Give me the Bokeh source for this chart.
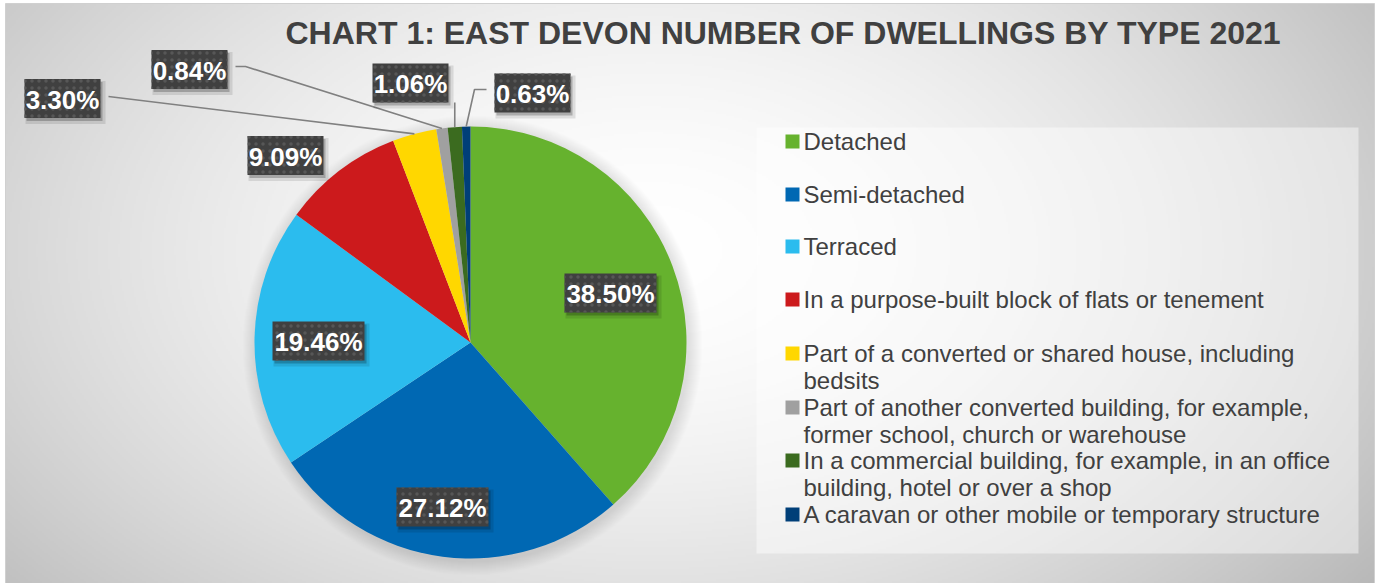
import numpy as np
from bokeh.plotting import figure
from bokeh.models import Range1d
from bokeh.core.properties import value
from bokeh.embed import file_html
from bokeh.resources import INLINE

# ---------------- data ----------------
title_text = "CHART 1: EAST DEVON NUMBER OF DWELLINGS BY TYPE 2021"
categories = [
    "Detached",
    "Semi-detached",
    "Terraced",
    "In a purpose-built block of flats or tenement",
    "Part of a converted or shared house, including bedsits",
    "Part of another converted building, for example, former school, church or warehouse",
    "In a commercial building, for example, in an office building, hotel or over a shop",
    "A caravan or other mobile or temporary structure",
]
legend_lines = [
    ["Detached"],
    ["Semi-detached"],
    ["Terraced"],
    ["In a purpose-built block of flats or tenement"],
    ["Part of a converted or shared house, including", "bedsits"],
    ["Part of another converted building, for example,", "former school, church or warehouse"],
    ["In a commercial building, for example, in an office", "building, hotel or over a shop"],
    ["A caravan or other mobile or temporary structure"],
]
shares = [38.50, 27.12, 19.46, 9.09, 3.30, 0.84, 1.06, 0.63]
colors = ["#66B22E", "#0068B3", "#2BBCEE", "#CC1A1C", "#FFD700", "#A0A0A0", "#3B6B1F", "#003F78"]

# ---------------- layout (image pixel coords, y downward) ----------------
W, H = 1379, 583
def fy(y):
    return H - y

CX, CY, R = 470, 342, 216
label_centers = [(610, 292.5), (442, 506.5), (318, 340.5), (285, 155),
                 (62, 98), (189, 69), (410, 82.5), (532, 92.5)]
legend_rows = [141, 194, 246, 299, 353, 407, 460, 514]
LINE_H = 27

p = figure(width=W, height=H, x_range=Range1d(0, W), y_range=Range1d(0, H),
           output_backend="svg", toolbar_location=None, min_border=0,
           x_axis_type=None, y_axis_type=None)
p.grid.visible = False
p.outline_line_color = None
p.background_fill_color = "white"
p.border_fill_color = "white"

# ---------------- background gradient ----------------
x0, x1, y0, y1 = 5, 1374, 3, 583
step = 2
gx = np.arange(x0, x1, step) + step / 2
gy = np.arange(y0, y1, step) + step / 2
GX, GY = np.meshgrid(gx, gy)
rr = np.sqrt(((GX - 650) / 800) ** 2 + ((GY - 250) / 500) ** 2)
v = np.clip(255 - 58 * rr ** 1.7, 180, 255).astype(np.uint8)
img = np.empty(v.shape, dtype=np.uint32)
view = img.view(dtype=np.uint8).reshape(v.shape + (4,))
view[..., 0] = v
view[..., 1] = v
view[..., 2] = v
view[..., 3] = 255
p.image_rgba(image=[np.flipud(img)], x=x0, y=fy(y1), dw=x1 - x0, dh=y1 - y0)
p.quad(left=x0, right=x1, bottom=fy(y1), top=fy(y0), fill_color=None, line_color="#D0D0D0", line_width=1)

# ---------------- title ----------------
p.text(x=[285], y=[fy(32)], text=[title_text], text_font=value("Liberation Sans"),
       text_font_style="bold", text_font_size="32px", text_color="#404040",
       text_align="left", text_baseline="middle")

# ---------------- pie shadow ----------------
ks = np.arange(1, 15)
p.circle(x=[CX + 2] * len(ks), y=[fy(CY + 3)] * len(ks), radius=list(R + ks),
         fill_color="black", fill_alpha=0.008, line_color=None)

# ---------------- pie ----------------
total = sum(shares)
cum = np.concatenate([[0], np.cumsum(shares)]) / total
starts = np.pi / 2 - 2 * np.pi * cum[:-1]
ends = np.pi / 2 - 2 * np.pi * cum[1:]
p.wedge(x=CX, y=fy(CY), radius=R, start_angle=starts, end_angle=ends,
        direction="clock", fill_color=colors, line_color=None)

# ---------------- leader lines for small slices ----------------
mids = 2 * np.pi * (cum[:-1] + cum[1:]) / 2  # clockwise from top
def edge_pt(i):
    a = mids[i]
    return CX + R * np.sin(a), CY - R * np.cos(a)

lead_xs, lead_ys = [], []
ex, ey = edge_pt(4)
bx, by = label_centers[4]
lead_xs.append([bx + 46, ex]); lead_ys.append([fy(by - 2), fy(ey)])
ex, ey = edge_pt(5)
bx, by = label_centers[5]
lead_xs.append([bx + 46, bx + 56, ex]); lead_ys.append([fy(by - 3), fy(by - 3), fy(ey)])
ex, ey = edge_pt(6)
bx, by = label_centers[6]
lead_xs.append([ex, ex]); lead_ys.append([fy(by + 19.5), fy(ey)])
ex, ey = edge_pt(7)
bx, by = label_centers[7]
lead_xs.append([bx - 46, bx - 58, ex]); lead_ys.append([fy(by - 3.5), fy(by - 3.5), fy(ey)])
p.multi_line(xs=lead_xs, ys=lead_ys, line_color="#808080", line_width=1.6)

# ---------------- data labels ----------------
label_text = [f"{s:.2f}%" for s in shares]
lx = [c[0] for c in label_centers]
ly = [fy(c[1]) for c in label_centers]
lw = [16 * len(t) - 4 for t in label_text]
lh = [39] * len(label_text)
p.rect(x=[x + 3 for x in lx], y=[y - 4 for y in ly], width=[w + 4 for w in lw], height=[h + 4 for h in lh],
       fill_color="black", fill_alpha=0.10, line_color=None)
p.rect(x=[x + 2 for x in lx], y=[y - 3 for y in ly], width=lw, height=lh,
       fill_color="black", fill_alpha=0.22, line_color=None)
p.rect(x=lx, y=ly, width=lw, height=lh, fill_color="#404040", line_color=None,
       hatch_pattern="dot", hatch_color="#575757", hatch_scale=7, hatch_weight=1.5)
p.text(x=lx, y=[y - 1 for y in ly], text=label_text, text_font=value("Liberation Sans"),
       text_font_style="bold", text_font_size="26px", text_color="white",
       text_align="center", text_baseline="middle")

# ---------------- legend ----------------
p.quad(left=756, right=1358, top=fy(127), bottom=fy(553), fill_color="white",
       fill_alpha=0.45, line_color=None)
p.rect(x=[792] * len(colors), y=[fy(r) for r in legend_rows], width=14, height=14,
       fill_color=colors, line_color=None)
tx, ty, tt = [], [], []
for row, lines in zip(legend_rows, legend_lines):
    for j, ln in enumerate(lines):
        tx.append(803); ty.append(fy(row + j * LINE_H)); tt.append(ln)
p.text(x=tx, y=ty, text=tt, text_font=value("Liberation Sans"), text_font_size="24px",
       text_color="#404040", text_align="left", text_baseline="middle")

open("out.html", "w").write(file_html(p, INLINE))
